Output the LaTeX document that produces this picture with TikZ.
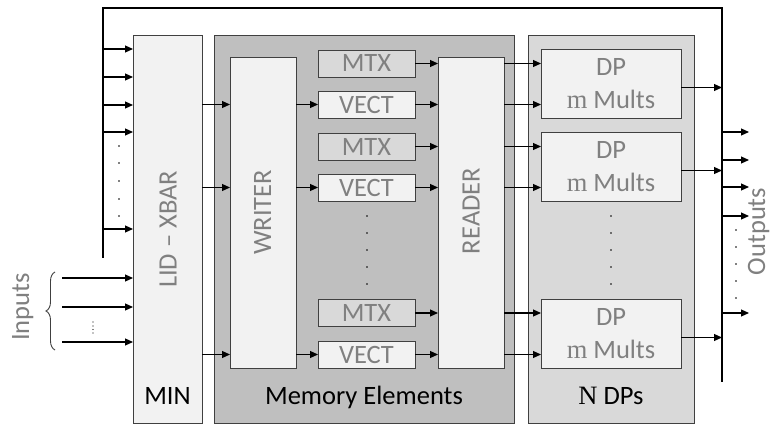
\documentclass[tikz,border=0pt]{standalone}
\usepackage{fontspec}
\setmainfont{Carlito}
\newfontfamily\cambria{Liberation Serif}
\usetikzlibrary{arrows.meta,decorations.pathreplacing}
\definecolor{lgray}{HTML}{F2F2F2}
\definecolor{mgray}{HTML}{D9D9D9}
\definecolor{dgray}{HTML}{BFBFBF}
\definecolor{bord}{HTML}{404040}
\definecolor{tgray}{HTML}{808080}
\begin{document}
\begin{tikzpicture}[x=1pt,y=-1pt,
  box/.style={draw=bord, line width=0.9pt, inner sep=0pt, outer sep=0pt, font=\fontsize{26.5}{33}\selectfont},
  lbl/.style={inner sep=0pt, font=\fontsize{26.5}{33}\selectfont},
  arr/.style={-{Triangle[length=8pt,width=7pt]}, line width=1.2pt},
  bus/.style={line width=2.6pt, line join=miter},
  memel/.style={box, minimum width=97pt, minimum height=27pt, text=tgray},
  dpbox/.style={box, fill=lgray, minimum width=140pt, minimum height=69pt, align=center, text=tgray},
  tall/.style={box, fill=lgray, minimum width=66pt, minimum height=311pt}
]
\useasboundingbox (0,0) rectangle (772,425);
\fill[white] (0,0) rectangle (772,425);

% group boxes
\node[box, fill=lgray, minimum width=69pt, minimum height=388pt] (min) at (167.5,229) {};
\node[box, fill=dgray, minimum width=300pt, minimum height=388pt] (mem) at (364,229) {};
\node[box, fill=mgray, minimum width=166pt, minimum height=388pt] (ndp) at (611,229) {};

% inner boxes
\node[tall] (writer) at (263,212.5) {};
\node[tall] (reader) at (471,212.5) {};
\node[memel, fill=mgray] (mtx1) at (366.5,63.5) {MTX};
\node[memel, fill=lgray] (vect1) at (366.5,104.5) {VECT};
\node[memel, fill=mgray] (mtx2) at (366.5,146.5) {MTX};
\node[memel, fill=lgray] (vect2) at (366.5,187.5) {VECT};
\node[memel, fill=mgray] (mtx3) at (366.5,313) {MTX};
\node[memel, fill=lgray] (vect3) at (366.5,354.5) {VECT};
\node[dpbox] (dp1) at (611,83.5) {DP\\{\cambria m} Mults};
\node[dpbox] (dp2) at (611,166.5) {DP\\{\cambria m} Mults};
\node[dpbox] (dp3) at (611,333.5) {DP\\{\cambria m} Mults};

% rotated labels
\node[lbl, rotate=90, text=tgray] (lidlbl) at (168,229.5) {LID – XBAR};
\node[lbl, rotate=90, text=tgray] (wrlbl) at (262.5,212.5) {WRITER};
\node[lbl, rotate=90, text=tgray] (rdlbl) at (471,211) {READER};
\node[lbl, rotate=90, text=tgray, anchor=base] (inlbl) at (29,307) {Inputs};
\node[lbl, rotate=90, text=tgray, anchor=base] (outlbl) at (765,231.5) {Outputs};

% bottom labels
\node[lbl, anchor=base] (minlbl) at (167.5,404) {MIN};
\node[lbl, anchor=base] (memlbl) at (364,404) {Memory Elements};
\node[lbl, anchor=base] (ndplbl) at (611,404) {{\cambria N} DPs};

% bus coordinates
\coordinate (lbot) at (103,258);
\coordinate (tl) at (103,8);
\coordinate (tr) at (722,8);
\coordinate (rbot) at (722,382);

% left bus arrows
\foreach \y [count=\i] in {49,77,105,132,229} {
  \coordinate (b\i) at (103,\y);
  \draw[arr] (b\i) -- (min.west |- b\i);
}
% inputs
\foreach \y [count=\i] in {278,307,342} {
  \coordinate (in\i) at (62,\y);
  \draw[arr] (in\i) -- (min.west |- in\i);
}
\draw[bord, line width=0.9pt, decorate, decoration={brace, amplitude=9pt}] (55,350) -- (55,272);

% MIN -> WRITER -> VECT
\foreach \v in {vect1,vect2,vect3} {
  \draw[arr] (min.east |- \v) -- (writer.west |- \v);
  \draw[arr] (writer.east |- \v) -- (\v.west);
}
% memory -> reader -> DPs
\foreach \m/\d in {mtx1/dp1,vect1/dp1,mtx2/dp2,vect2/dp2,mtx3/dp3,vect3/dp3} {
  \draw[arr] (\m.east) -- (reader.west |- \m);
  \draw[arr] (reader.east |- \m) -- (\d.west |- \m);
}
% DP outputs
\foreach \d in {dp1,dp2,dp3} {
  \coordinate (\d o) at ([yshift=-4pt]\d.east);
  \draw[arr] (\d o) -- (\d o -| tr);
}
% output arrows
\foreach \y [count=\i] in {132,160,187,216,313} {
  \coordinate (o\i) at (749,\y);
  \draw[arr] (o\i -| tr) -- (o\i);
}

% bus
\draw[bus] (lbot) -- (tl) -- (tr) -- (rbot);

% dots
\foreach \y in {146,163,181,199,216} \fill (119,\y) circle (0.9pt);
\foreach \y in {216,233,250,267,284} {
  \fill (367,\y) circle (0.8pt);
  \fill (611,\y) circle (0.8pt);
}
\foreach \y in {230,247,264,281,298} \fill (736,\y) circle (0.8pt);
\foreach \y in {322,326,329.5,333} \fill (93,\y) circle (0.55pt);
\end{tikzpicture}
\end{document}
